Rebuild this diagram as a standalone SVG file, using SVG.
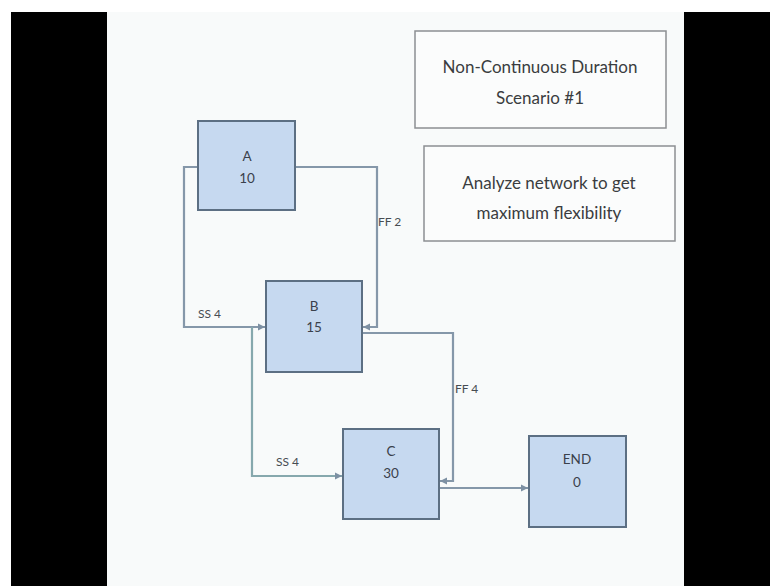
<svg xmlns="http://www.w3.org/2000/svg" width="770" height="586" viewBox="0 0 770 586">
<defs>
<style>
.bar{fill:#000}
.node rect{fill:#c6d9f0;stroke:#5c6f83;stroke-width:2}
.node text{font-family:Lato,"Liberation Sans",sans-serif;font-size:13.5px;fill:#3a414b;text-anchor:middle}
.box rect{fill:#fbfcfc;stroke:#8c8f92;stroke-width:1.5}
.box text{font-family:Lato,"Liberation Sans",sans-serif;font-size:17px;fill:#3a3d40;text-anchor:middle}
.conn{fill:none;stroke:#8597a9;stroke-width:2.2}
.conn2{fill:none;stroke:#86a8ad;stroke-width:2.2}
.lbl{font-family:Lato,"Liberation Sans",sans-serif;font-size:12px;fill:#474c52}
</style>
<marker id="arr" markerWidth="8" markerHeight="8" refX="7" refY="4" orient="auto" markerUnits="userSpaceOnUse">
<path d="M0,0.5 L7,4 L0,7.5 Z" fill="#7d90a3"/>
</marker>
</defs>
<rect x="0" y="0" width="770" height="586" fill="#ffffff"/>
<rect x="107" y="12" width="577" height="574" fill="#f8fafa"/>
<rect class="bar" x="11" y="12" width="96" height="574"/>
<rect class="bar" x="684" y="12" width="86" height="574"/>

<g id="title-box" class="box">
<rect x="415" y="31" width="251" height="97"/>
<text x="540" y="73">Non-Continuous Duration</text>
<text x="540" y="104">Scenario #1</text>
</g>
<g id="note-box" class="box">
<rect x="424" y="146" width="251" height="95"/>
<text x="549" y="189">Analyze network to get</text>
<text x="549" y="219">maximum flexibility</text>
</g>

<g id="connectors">
<path class="conn" d="M198,167 H184 V327 H265" marker-end="url(#arr)"/>
<path class="conn" d="M295,167 H377 V327 H363" marker-end="url(#arr)"/>
<path class="conn2" d="M252,327 V476 H342" marker-end="url(#arr)"/>
<path class="conn" d="M362,333 H453 V481 H440" marker-end="url(#arr)"/>
<path class="conn" d="M439,488 H528" marker-end="url(#arr)"/>
<text class="lbl" x="198" y="318">SS 4</text>
<text class="lbl" x="378" y="226">FF 2</text>
<text class="lbl" x="276" y="466">SS 4</text>
<text class="lbl" x="455" y="393">FF 4</text>
</g>

<g id="node-A" class="node">
<rect x="198" y="121" width="97" height="89"/>
<text x="247" y="161">A</text>
<text x="247" y="183">10</text>
</g>
<g id="node-B" class="node">
<rect x="266" y="281" width="96" height="91"/>
<text x="314" y="311">B</text>
<text x="314" y="332">15</text>
</g>
<g id="node-C" class="node">
<rect x="343" y="429" width="96" height="90"/>
<text x="391" y="456">C</text>
<text x="391" y="478">30</text>
</g>
<g id="node-END" class="node">
<rect x="529" y="436" width="97" height="91"/>
<text x="577" y="464">END</text>
<text x="577" y="487">0</text>
</g>
</svg>
